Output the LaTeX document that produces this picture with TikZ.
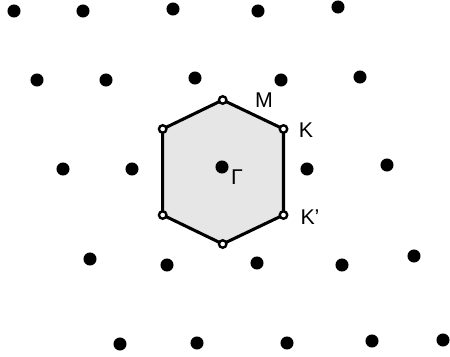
\documentclass[tikz,border=0pt]{standalone}
\usepackage{fontspec}
\setmainfont{Liberation Sans}
\definecolor{zonefill}{RGB}{230,230,230}
\begin{document}
\begin{tikzpicture}[x=0.75pt,y=-0.75pt,
  dot/.style={circle,fill=black,inner sep=0pt,minimum size=9.8pt},
  vtx/.style={circle,draw=black,fill=white,line width=1.8pt,inner sep=0pt,minimum size=5.6pt},
  lbl/.style={font=\fontsize{16}{16}\selectfont,inner sep=0pt},
  hexline/.style={line width=2.3pt,line join=round,fill=zonefill,draw=black}]
\useasboundingbox (0,0) rectangle (450,357);
% hexagon corners
\coordinate (T) at (222.7,100);
\coordinate (UR) at (283.5,129);
\coordinate (LR) at (283.5,215);
\coordinate (B) at (222.7,244);
\coordinate (LL) at (162.7,215);
\coordinate (UL) at (162.7,129);
\draw[hexline] (T) -- (UR) -- (LR) -- (B) -- (LL) -- (UL) -- cycle;
% lattice points
\node[dot] (a1) at (14,11) {};
\node[dot] (a2) at (83,11) {};
\node[dot] (a3) at (173,9) {};
\node[dot] (a4) at (258,11) {};
\node[dot] (a5) at (338,7) {};
\node[dot] (b1) at (37,80) {};
\node[dot] (b2) at (106,80) {};
\node[dot] (b3) at (195,78) {};
\node[dot] (b4) at (281,80) {};
\node[dot] (b5) at (360,77) {};
\node[dot] (c1) at (63,169) {};
\node[dot] (c2) at (132,169) {};
\node[dot] (G) at (222,167) {};
\node[dot] (c4) at (307,169) {};
\node[dot] (c5) at (387,165) {};
\node[dot] (d1) at (90,259) {};
\node[dot] (d2) at (167,265) {};
\node[dot] (d3) at (257,263) {};
\node[dot] (d4) at (342,265) {};
\node[dot] (d5) at (414,256) {};
\node[dot] (e1) at (120,344) {};
\node[dot] (e2) at (197,343) {};
\node[dot] (e3) at (287,343) {};
\node[dot] (e4) at (372,341) {};
\node[dot] (e5) at (443,340) {};
% vertex markers
\node[vtx] (vT) at (T) {};
\node[vtx] (vUR) at (UR) {};
\node[vtx] (vLR) at (LR) {};
\node[vtx] (vB) at (B) {};
\node[vtx] (vLL) at (LL) {};
\node[vtx] (vUL) at (UL) {};
% labels
\node[lbl] (lM) at (264,100) {M};
\node[lbl] (lK) at (306,130) {K};
\node[lbl] (lKp) at (310,217) {K’};
\node[lbl] (lG) at (237,177) {Γ};
\end{tikzpicture}
\end{document}
